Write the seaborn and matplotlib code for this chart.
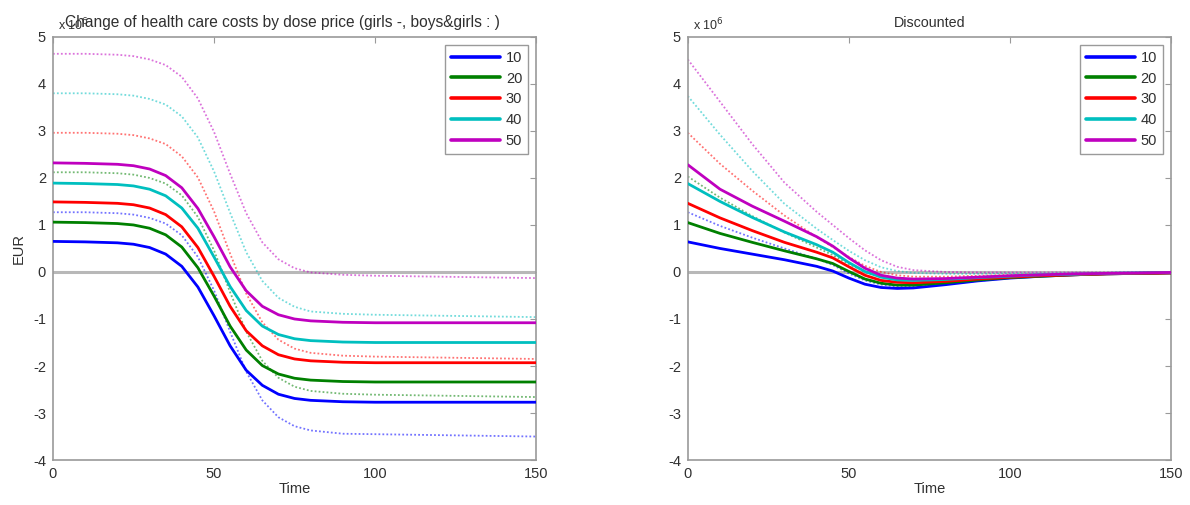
import numpy as np
import pandas as pd
import seaborn as sns
import matplotlib
matplotlib.use("Agg")
import matplotlib.pyplot as plt
from matplotlib.lines import Line2D

# ---------------------------------------------------------------------------
# Data (values in millions of EUR)
# ---------------------------------------------------------------------------
dose_prices = ["10", "20", "30", "40", "50"]

# Undiscounted change of health care costs
time_raw = [0, 10, 20, 25, 30, 35, 40, 45, 50, 55, 60, 65, 70, 75, 80, 90,
            100, 110, 120, 130, 140, 150]

girls_raw_10 = [0.65, 0.64, 0.62, 0.59, 0.52, 0.38, 0.12, -0.32, -0.93, -1.57, -2.09,
                -2.41, -2.60, -2.69, -2.73, -2.76, -2.77, -2.77, -2.77, -2.77, -2.77, -2.77]
girls_raw_20 = [1.06, 1.05, 1.03, 1.00, 0.93, 0.79, 0.53, 0.09, -0.51, -1.15, -1.66,
                -1.99, -2.17, -2.26, -2.30, -2.33, -2.34, -2.34, -2.34, -2.34, -2.34, -2.34]
girls_raw_30 = [1.49, 1.48, 1.46, 1.43, 1.36, 1.22, 0.96, 0.52, -0.09, -0.73, -1.25,
                -1.57, -1.76, -1.85, -1.89, -1.92, -1.93, -1.93, -1.93, -1.93, -1.93, -1.93]
girls_raw_40 = [1.89, 1.88, 1.86, 1.83, 1.76, 1.62, 1.36, 0.93, 0.32, -0.31, -0.82,
                -1.15, -1.33, -1.42, -1.46, -1.49, -1.50, -1.50, -1.50, -1.50, -1.50, -1.50]
girls_raw_50 = [2.32, 2.31, 2.29, 2.26, 2.19, 2.05, 1.79, 1.35, 0.75, 0.11, -0.40,
                -0.73, -0.91, -1.00, -1.04, -1.07, -1.08, -1.08, -1.08, -1.08, -1.08, -1.08]

both_raw_10 = [1.27, 1.27, 1.25, 1.22, 1.15, 1.03, 0.78, 0.32, -0.39, -1.27, -2.12,
               -2.73, -3.09, -3.28, -3.37, -3.44, -3.45, -3.46, -3.47, -3.48, -3.49, -3.50]
both_raw_20 = [2.12, 2.12, 2.10, 2.07, 2.00, 1.88, 1.63, 1.17, 0.46, -0.43, -1.27,
               -1.89, -2.25, -2.44, -2.53, -2.59, -2.61, -2.62, -2.63, -2.64, -2.65, -2.66]
both_raw_30 = [2.96, 2.96, 2.94, 2.91, 2.84, 2.72, 2.46, 2.01, 1.29, 0.39, -0.46,
               -1.07, -1.44, -1.63, -1.72, -1.78, -1.80, -1.81, -1.82, -1.83, -1.84, -1.85]
both_raw_40 = [3.80, 3.80, 3.78, 3.75, 3.68, 3.56, 3.31, 2.86, 2.14, 1.26, 0.42,
               -0.19, -0.55, -0.74, -0.84, -0.89, -0.91, -0.92, -0.93, -0.94, -0.95, -0.96]
both_raw_50 = [4.64, 4.64, 4.62, 4.59, 4.52, 4.40, 4.15, 3.69, 2.98, 2.09, 1.25,
               0.63, 0.27, 0.08, -0.01, -0.06, -0.08, -0.09, -0.10, -0.11, -0.12, -0.13]

# Discounted change of health care costs
time_disc = [0, 10, 20, 30, 40, 45, 50, 55, 60, 65, 70, 80, 90, 100, 110, 120, 130, 140, 150]

girls_disc_10 = [0.64, 0.50, 0.38, 0.26, 0.12, 0.02, -0.13, -0.26, -0.33, -0.35,
                 -0.34, -0.27, -0.19, -0.13, -0.09, -0.06, -0.04, -0.03, -0.02]
girls_disc_20 = [1.05, 0.82, 0.63, 0.45, 0.28, 0.18, 0.01, -0.15, -0.24, -0.28,
                 -0.28, -0.23, -0.17, -0.12, -0.09, -0.06, -0.04, -0.03, -0.02]
girls_disc_30 = [1.46, 1.15, 0.88, 0.63, 0.42, 0.30, 0.11, -0.07, -0.18, -0.22,
                 -0.23, -0.20, -0.15, -0.11, -0.08, -0.06, -0.04, -0.03, -0.02]
girls_disc_40 = [1.88, 1.50, 1.16, 0.85, 0.58, 0.42, 0.20, 0.01, -0.11, -0.17,
                 -0.18, -0.16, -0.12, -0.09, -0.06, -0.05, -0.03, -0.02, -0.01]
girls_disc_50 = [2.28, 1.76, 1.40, 1.08, 0.75, 0.55, 0.30, 0.08, -0.07, -0.13,
                 -0.15, -0.14, -0.11, -0.08, -0.06, -0.04, -0.03, -0.02, -0.01]

both_disc_10 = [1.27, 0.98, 0.73, 0.50, 0.28, 0.15, -0.03, -0.18, -0.27, -0.31,
                -0.31, -0.26, -0.19, -0.13, -0.09, -0.06, -0.04, -0.03, -0.02]
both_disc_20 = [2.03, 1.58, 1.19, 0.84, 0.52, 0.36, 0.17, 0.00, -0.11, -0.16,
                -0.18, -0.16, -0.12, -0.09, -0.07, -0.05, -0.03, -0.02, -0.01]
both_disc_30 = [2.96, 2.30, 1.73, 1.20, 0.74, 0.53, 0.32, 0.13, 0.00, -0.07,
                -0.10, -0.10, -0.08, -0.06, -0.05, -0.04, -0.03, -0.02, -0.01]
both_disc_40 = [3.74, 2.92, 2.15, 1.45, 0.92, 0.68, 0.45, 0.25, 0.10, 0.02,
                -0.02, -0.04, -0.04, -0.03, -0.03, -0.02, -0.02, -0.01, -0.01]
both_disc_50 = [4.52, 3.62, 2.72, 1.90, 1.28, 1.00, 0.72, 0.46, 0.25, 0.11,
                0.04, 0.00, -0.01, -0.01, -0.01, -0.01, -0.01, 0.00, 0.00]

x_ticks = [0, 50, 100, 150]
y_ticks = [-4, -3, -2, -1, 0, 1, 2, 3, 4, 5]

# ---------------------------------------------------------------------------
# Styling
# ---------------------------------------------------------------------------
sns.set_style("white")
plt.rcParams["font.family"] = ["Liberation Sans", "DejaVu Sans"]
plt.rcParams["axes.unicode_minus"] = False

line_colors = ["#0000ff", "#008000", "#ff0000", "#00bfbf", "#bf00bf"]
axis_gray = "#9a9a9a"
text_color = "#303030"

fig = plt.figure(figsize=(11.9, 5.05), dpi=100)
ax_raw = fig.add_axes([0.0445, 0.089, 0.406, 0.838])
ax_disc = fig.add_axes([0.578, 0.089, 0.406, 0.838])


def draw_panel(ax, time, girls, both, title, title_size, title_x):
    ax.axhline(0, color="#b8b8b8", lw=2.2, zorder=1)
    for vals, col in zip(both, line_colors):
        sns.lineplot(x=time, y=vals, ax=ax, color=col, lw=1.3,
                     linestyle=(0, (1, 1.2)), alpha=0.55, zorder=2)
    for vals, col in zip(girls, line_colors):
        sns.lineplot(x=time, y=vals, ax=ax, color=col, lw=2.0, zorder=3)

    ax.set_xlim(0, 150)
    ax.set_ylim(-4, 5)
    ax.set_xticks(x_ticks)
    ax.set_yticks(y_ticks)
    ax.tick_params(direction="in", length=4, width=0.8, color=axis_gray,
                   labelsize=10.5, labelcolor=text_color, top=True, right=True,
                   pad=5)
    for sp in ax.spines.values():
        sp.set_color(axis_gray)
        sp.set_linewidth(1.2)
    ax.set_xlabel("Time", fontsize=10.5, color=text_color, labelpad=1)
    ax.set_title(title, fontsize=title_size, color=text_color, pad=7, x=title_x)
    ax.text(0.01, 1.008, r"x 10$^{6}$", transform=ax.transAxes, fontsize=9,
            color=text_color, ha="left", va="bottom")

    handles = [Line2D([0], [0], color=c, lw=2.6) for c in line_colors]
    leg = ax.legend(handles, dose_prices, loc="upper right", fontsize=10.5,
                    handlelength=3.35, handletextpad=0.4, labelspacing=0.47,
                    borderpad=0.4, borderaxespad=0.55, fancybox=False,
                    framealpha=1, edgecolor=axis_gray)
    leg.get_frame().set_linewidth(1.0)
    for t in leg.get_texts():
        t.set_color(text_color)


draw_panel(ax_raw, time_raw,
           [girls_raw_10, girls_raw_20, girls_raw_30, girls_raw_40, girls_raw_50],
           [both_raw_10, both_raw_20, both_raw_30, both_raw_40, both_raw_50],
           "Change of health care costs by dose price (girls -, boys&girls : )",
           11.2, 0.474)
ax_raw.set_ylabel("EUR", fontsize=10.5, color=text_color, labelpad=5)

draw_panel(ax_disc, time_disc,
           [girls_disc_10, girls_disc_20, girls_disc_30, girls_disc_40, girls_disc_50],
           [both_disc_10, both_disc_20, both_disc_30, both_disc_40, both_disc_50],
           "Discounted", 10.3, 0.5)
ax_disc.set_ylabel("")

fig.savefig("out.png", dpi=100)
